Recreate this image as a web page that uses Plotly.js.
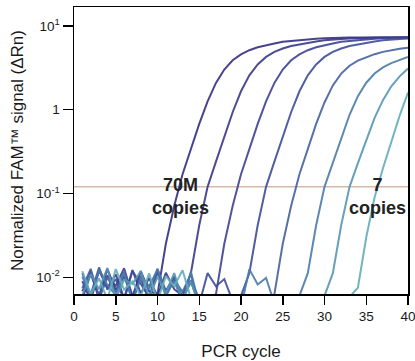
<!DOCTYPE html>
<html>
<head>
<meta charset="utf-8">
<script src="https://cdn.plot.ly/plotly-3.0.1.min.js"></script>
<style>html,body{margin:0;padding:0;background:#fff;}#chart{width:415px;height:361px;}</style>
</head>
<body>
<div id="chart"></div>
<script>
// PCR cycles 1..40
var cycles = [1,2,3,4,5,6,7,8,9,10,11,12,13,14,15,16,17,18,19,20,21,22,23,24,25,26,27,28,29,30,31,32,33,34,35,36,37,38,39,40];

// Normalized ΔRn per dilution (70M copies ... 7 copies)
var curve70M = [0.0055,0.011,0.006,0.0125,0.007,0.0102,0.0058,0.0118,0.0068,
  0.0063,0.0251,0.0708,0.170,0.339,0.676,1.26,2.09,3.02,3.89,4.57,
  5.13,5.56,5.89,6.17,6.46,6.61,6.84,6.95,7.05,7.11,
  7.2,7.24,7.26,7.28,7.3,7.3,7.32,7.33,7.34,7.35];
var curve7M = [0.009,0.0052,0.012,0.0075,0.0108,0.0056,0.0122,0.0064,0.0098,0.0059,0.0113,0.0072,
  0.006,0.0112,0.0417,0.120,0.240,0.479,0.933,1.66,2.57,3.47,4.27,4.90,5.37,5.75,6.03,6.31,
  6.53,6.76,6.92,7.0,7.08,7.16,7.22,7.24,7.26,7.28,7.29,7.3];
var curve700k = [0.0068,0.0118,0.0054,0.0105,0.0079,0.0128,0.006,0.0096,0.0052,0.0115,0.0066,0.0102,0.0057,0.0092,0.0055,0.0048,
  0.0063,0.0251,0.0708,0.170,0.339,0.676,1.26,2.09,3.02,3.89,4.57,5.13,5.56,5.89,6.17,6.46,
  6.61,6.84,6.95,7.05,7.11,7.2,7.24,7.26];
var curve70k = [0.0112,0.0062,0.0131,0.0071,0.0095,0.0053,0.0119,0.0083,0.0058,0.0124,0.0069,0.0101,0.0055,0.0088,0.0048,0.0112,0.0078,0.0095,0.0052,
  0.006,0.0112,0.0417,0.120,0.240,0.479,0.933,1.66,2.57,3.47,4.27,4.90,5.37,5.75,6.03,6.31,6.53,6.76,6.92,7.0,7.08];
var curve7k = [0.0074,0.0126,0.0058,0.0099,0.0066,0.0115,0.005,0.0104,0.0078,0.0121,0.0059,0.0093,0.0067,0.0109,
  0.0045,0.005,0.0042,0.0055,0.0048,0.0044,0.0052,0.0047,0.0043,
  0.0063,0.0251,0.0708,0.170,0.339,0.676,1.22,1.95,2.7,3.35,3.85,4.25,4.6,4.9,5.15,5.35,5.5];
var curve700 = [0.0102,0.0057,0.0123,0.0081,0.0061,0.0114,0.0052,0.0097,0.0072,0.0127,0.0063,0.0089,0.0051,0.0117,
  0.0046,0.0041,0.0052,0.0045,0.005,0.0043,0.0125,0.0082,0.0098,0.0049,0.0044,0.0051,
  0.006,0.0112,0.0417,0.120,0.235,0.46,0.87,1.45,2.1,2.7,3.2,3.6,3.95,4.25];
var curve70 = [0.0061,0.0109,0.0072,0.0129,0.0055,0.0094,0.0083,0.0119,0.0058,0.0101,0.0064,0.0112,0.0053,0.0091,
  0.0044,0.0051,0.0046,0.0042,0.0055,0.0047,0.0043,0.005,0.0045,0.0041,0.0053,0.0048,0.0044,0.0052,0.0046,
  0.006,0.0112,0.0417,0.120,0.23,0.44,0.8,1.3,1.9,2.5,3.1];
var curve7 = [0.0118,0.0063,0.0097,0.0054,0.0125,0.0071,0.0089,0.006,0.0111,0.0052,0.0103,0.0078,0.0121,0.0056,
  0.0043,0.0049,0.0045,0.0052,0.0041,0.0047,0.0054,0.0044,0.0048,0.0042,0.0051,0.0046,0.0043,0.005,0.0045,0.0041,0.0049,0.0044,0.0058,
  0.0075,0.03,0.09,0.2,0.42,0.85,1.6];

var threshold = [0.12, 0.12];
var thresholdX = [0, 40];

var xTicks = [0,5,10,15,20,25,30,35,40];
var yTickVals = [0.01, 0.1, 1, 10];
var yTickText = ['10<sup>-2</sup>', '10<sup>-1</sup>', '1', '10<sup>1</sup>'];

var series = [curve70M, curve7M, curve700k, curve70k, curve7k, curve700, curve70, curve7];
var colors = ['#33307f', '#383889', '#3c4192', '#3d4c98', '#44609f', '#4b7ba9', '#5596b3', '#62adbd'];

var font = 'Liberation Sans, Arial, Helvetica, sans-serif';

var traces = [{
  x: thresholdX, y: threshold, mode: 'lines',
  line: {color: '#d8b8a6', width: 1.5}, hoverinfo: 'skip'
}];
series.forEach(function(s, i) {
  traces.push({
    x: cycles, y: s, mode: 'lines',
    line: {color: colors[i], width: 2},
    opacity: 0.9
  });
});

var layout = {
  width: 415, height: 361,
  margin: {l: 74, r: 7, t: 7, b: 67},
  showlegend: false,
  paper_bgcolor: '#fff', plot_bgcolor: '#fff',
  font: {family: font, color: '#1a1a1a'},
  xaxis: {
    range: [0, 40], tickvals: xTicks, ticks: 'outside', ticklen: 9, tickwidth: 1.5, tickcolor: '#000',
    showline: true, linecolor: '#000', linewidth: 1.5, mirror: true,
    showgrid: false, zeroline: false, ticklabeloverflow: 'allow',
    tickfont: {size: 13.5, family: font, color: '#1a1a1a'},
    title: {text: 'PCR cycle', font: {size: 17, family: font, color: '#1a1a1a'}, standoff: 23}
  },
  yaxis: {
    type: 'log', range: [-2.2, 1.226],
    tickvals: yTickVals, ticktext: yTickText,
    ticks: 'outside', ticklen: 10, tickwidth: 1.5, tickcolor: '#000',
    showline: true, linecolor: '#000', linewidth: 1.5, mirror: true,
    showgrid: false, zeroline: false,
    tickfont: {size: 13.5, family: font, color: '#1a1a1a'},
    title: {text: 'Normalized FAM™ signal (ΔRn)', font: {size: 17, family: font, color: '#1a1a1a'}, standoff: 8}
  },
  annotations: [
    {x: 12.8, y: 0.341, xref: 'x', yref: 'paper', text: '<b>70M</b><br><b>copies</b>', showarrow: false,
     font: {size: 18, family: font, color: '#222'}, align: 'center'},
    {x: 36.4, y: 0.341, xref: 'x', yref: 'paper', text: '<b>7</b><br><b>copies</b>', showarrow: false,
     font: {size: 18, family: font, color: '#222'}, align: 'center'}
  ]
};

Plotly.newPlot('chart', traces, layout, {staticPlot: true, displayModeBar: false});
</script>
</body>
</html>
